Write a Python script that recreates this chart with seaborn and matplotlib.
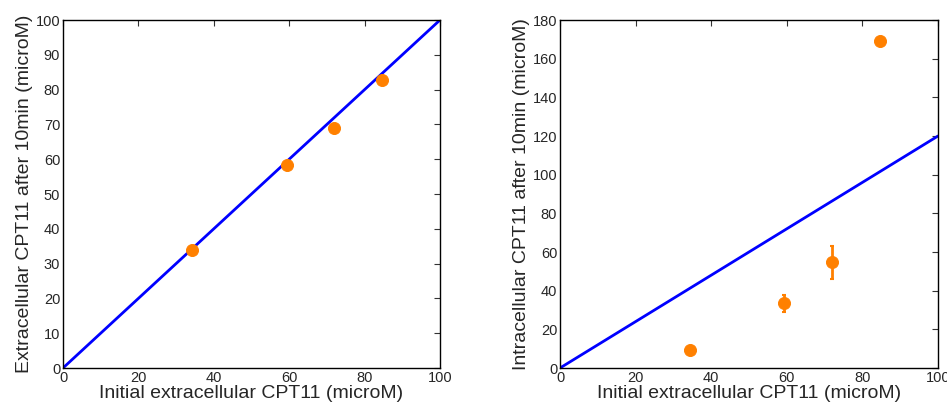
import numpy as np
import pandas as pd
import matplotlib
matplotlib.use("Agg")
import matplotlib.pyplot as plt
import seaborn as sns

# measured data
initial_conc = [34.3, 59.3, 72.0, 84.7]
extra_after = [34.0, 58.3, 68.9, 82.7]
intra_after = [9.3, 33.5, 54.6, 169.3]
intra_err = [0.0, 4.5, 8.4, 0.0]

# reference lines
ref_x = [0, 100]
extra_ref_y = [0, 100]
intra_ref_y = [0, 120]

sns.set_style("white")
plt.rcParams['font.family'] = ['Liberation Sans', 'DejaVu Sans']

orange = "#ff8000"
blue = "#0000ff"

fig = plt.figure(figsize=(9.47, 4.08), dpi=100)
ax1 = fig.add_axes([63 / 947, 40 / 408, 377 / 947, 348 / 408])
ax2 = fig.add_axes([560 / 947, 40 / 408, 378 / 947, 348 / 408])

df = pd.DataFrame({"x": initial_conc, "extra": extra_after,
                   "intra": intra_after, "err": intra_err})

# left panel
sns.lineplot(x=ref_x, y=extra_ref_y, ax=ax1, color=blue, linewidth=2)
sns.scatterplot(data=df, x="x", y="extra", ax=ax1, color=orange, s=75,
                edgecolor=orange, zorder=3)
ax1.set_xlim(0, 100)
ax1.set_ylim(0, 100)
ax1.set_xticks(np.arange(0, 101, 20))
ax1.set_yticks(np.arange(0, 101, 10))
ax1.set_xlabel("Initial extracellular CPT11 (microM)", fontsize=14, labelpad=0)
ax1.set_ylabel("Extracellular CPT11 after 10min (microM)", fontsize=14, labelpad=2)

# right panel
sns.lineplot(x=ref_x, y=intra_ref_y, ax=ax2, color=blue, linewidth=2)
ax2.errorbar(df["x"], df["intra"], yerr=df["err"], fmt="none",
             ecolor=orange, elinewidth=2, capsize=1.5, capthick=1.5, zorder=2)
sns.scatterplot(data=df, x="x", y="intra", ax=ax2, color=orange, s=75,
                edgecolor=orange, zorder=3)
ax2.set_xlim(0, 100)
ax2.set_ylim(0, 180)
ax2.set_xticks(np.arange(0, 101, 20))
ax2.set_yticks(np.arange(0, 181, 20))
ax2.set_xlabel("Initial extracellular CPT11 (microM)", fontsize=14, labelpad=0)
ax2.set_ylabel("Intracellular CPT11 after 10min (microM)", fontsize=14, labelpad=2)

for ax in (ax1, ax2):
    ax.tick_params(direction="in", top=True, right=True, length=4,
                   width=0.8, labelsize=10.5, pad=2, color="#333333")
    for sp in ax.spines.values():
        sp.set_visible(True)
        sp.set_color("black")
        sp.set_linewidth(1)

fig.savefig("out.png", dpi=100)
